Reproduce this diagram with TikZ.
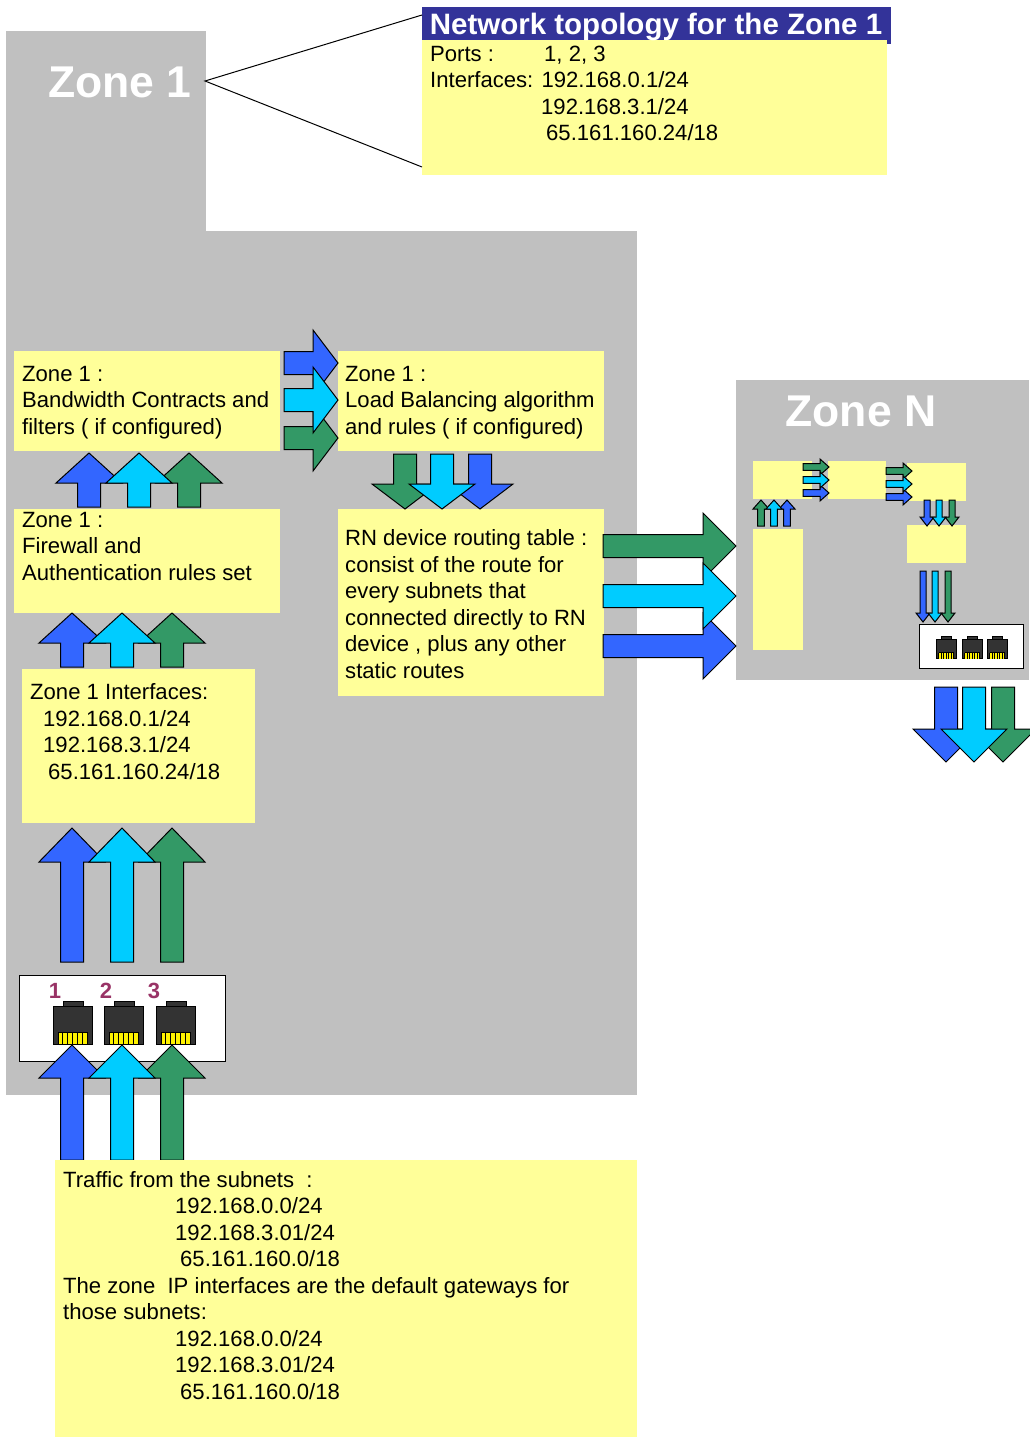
\documentclass[tikz,border=0pt]{standalone}
\usepackage{fontspec}
\setmainfont{Liberation Sans}
\definecolor{zonegray}{RGB}{192,192,192}
\definecolor{noteyel}{RGB}{255,255,153}
\definecolor{headnavy}{RGB}{51,51,153}
\definecolor{arblue}{RGB}{51,102,255}
\definecolor{arcyan}{RGB}{0,204,255}
\definecolor{argreen}{RGB}{51,153,102}
\definecolor{portnum}{RGB}{153,51,102}
\definecolor{portdark}{RGB}{51,51,51}
\tikzset{
  notetxt/.style={anchor=north west,inner sep=0pt,align=left,
    font=\fontsize{22.1}{26.5}\selectfont},
  zonetxt/.style={text=white,font=\fontsize{44.5}{50}\selectfont\bfseries},
  numtxt/.style={text=portnum,font=\fontsize{22}{24}\selectfont\bfseries}
}
% colour, tail x, tail y, angle, length, head length, head half, shaft half
\newcommand{\fatarrow}[8]{
  \draw[line width=1pt,line join=miter,fill=#1,shift={(#2,#3)},rotate=#4]
    (0,-#8) -- ({#5-#6},-#8) -- ({#5-#6},-#7) -- (#5,0)
    -- ({#5-#6},#7) -- ({#5-#6},#8) -- (0,#8) -- cycle;
}
% left x, top y, scale
\newcommand{\rjport}[3]{
  \begin{scope}[shift={(#1,#2)},scale=#3]
    \draw[line width=0.8pt,fill=portdark] (10,-5) rectangle (30,0);
    \draw[line width=0.8pt,fill=portdark] (0,0) rectangle (39,38);
    \fill[yellow] (5,26) rectangle (34,38);
    \foreach \s in {5,9.8,14.7,19.5,24.3,29.2,34}{
      \draw[line width=0.9pt,black] (\s,26) -- (\s,38);
    }
    \draw[line width=0.9pt] (5,26) -- (34,26);
  \end{scope}
}
\begin{document}
\begin{tikzpicture}[x=1pt,y=-1pt]
  \useasboundingbox (0,0) rectangle (1029,1437);
  % zone backgrounds
  \fill[zonegray] (6,31) rectangle (206,232);
  \fill[zonegray] (6,231) rectangle (637,1095);
  \fill[zonegray] (736,380) rectangle (1029,680);
  \node[zonetxt] (zoneone) at (120,82) {Zone 1};
  \node[zonetxt] (zonen) at (861,411) {Zone N};

  % topology note
  \fill[headnavy] (422,7) rectangle (891,44);
  \fill[noteyel] (422,40) rectangle (887,175);
  \node[text=white,inner sep=0pt,font=\fontsize{29.5}{32}\selectfont\bfseries]
    (topohead) at (656,27) {Network topology for the Zone 1};
  \node[notetxt] (topotxt) at (430,45.6) {\makebox[114pt][l]{Ports :}1, 2, 3\\
    Interfaces: 192.168.0.1/24\\
    \hspace*{111pt}192.168.3.1/24\\
    \hspace*{116pt}65.161.160.24/18};
  \coordinate (zonetip) at (205,81);
  \coordinate (topoup) at (422,15);
  \coordinate (topodown) at (422,167);
  \draw[line width=1pt] (topoup) -- (zonetip) -- (topodown);

  % notes of zone 1
  \fill[noteyel] (14,351) rectangle (280,451);
  \node[notetxt] (bandtxt) at (22,366) {Zone 1 :\\
    Bandwidth Contracts and\\
    filters ( if configured)};
  \fill[noteyel] (14,509) rectangle (280,613);
  \node[notetxt] (firetxt) at (22,512) {Zone 1 :\\
    Firewall and\\
    Authentication rules set};
  \fill[noteyel] (22,669) rectangle (255,823);
  \node[notetxt] (ifacetxt) at (30,683.6) {Zone 1 Interfaces:\\
    \hspace*{13pt}192.168.0.1/24\\
    \hspace*{13pt}192.168.3.1/24\\
    \hspace*{18pt}65.161.160.24/18};
  \fill[noteyel] (338,351) rectangle (604,451);
  \node[notetxt] (loadtxt) at (345,366) {Zone 1 :\\
    Load Balancing algorithm\\
    and rules ( if configured)};
  \fill[noteyel] (338,509) rectangle (604,696);
  \node[notetxt] (routetxt) at (345,529.4) {RN device routing table :\\
    consist of the route for\\
    every subnets that\\
    connected directly to RN\\
    device , plus any other\\
    static routes};

  % ports of zone 1
  \draw[line width=1pt,fill=white] (19,975) rectangle (225,1061);
  \foreach \px in {53,104,156}{
    \rjport{\px}{1006}{1}
  }
  \node[numtxt] (numone) at (55,991) {1};
  \node[numtxt] (numtwo) at (106,991) {2};
  \node[numtxt] (numthree) at (154,991) {3};

  % arrows of zone 1
  \foreach \ax/\ac in {72/arblue,172/argreen,122/arcyan}{
    \fatarrow{\ac}{\ax}{1160}{90}{115}{33}{33}{11.5}
    \fatarrow{\ac}{\ax}{962}{90}{134}{34}{33}{11.5}
    \fatarrow{\ac}{\ax}{667}{90}{54}{30}{33}{11.5}
  }
  \foreach \ax/\ac in {89/arblue,189/argreen,139/arcyan}{
    \fatarrow{\ac}{\ax}{507}{90}{54}{30}{33}{11.5}
  }
  \foreach \ay/\ac in {363/arblue,438/argreen,400/arcyan}{
    \fatarrow{\ac}{284}{\ay}{0}{54}{25}{33}{11.5}
  }
  \foreach \ax/\ac in {480/arblue,405/argreen,442/arcyan}{
    \fatarrow{\ac}{\ax}{454}{-90}{55}{25}{33}{11.5}
  }
  \foreach \ay/\ac in {646/arblue,546/argreen,596/arcyan}{
    \fatarrow{\ac}{603}{\ay}{0}{133}{33}{33}{11.5}
  }

  % traffic note
  \fill[noteyel] (55,1160) rectangle (637,1437);
  \node[notetxt] (traffictxt) at (63,1171.2) {Traffic from the subnets\ \ :\\
    \hspace*{112pt}192.168.0.0/24\\
    \hspace*{112pt}192.168.3.01/24\\
    \hspace*{117pt}65.161.160.0/18\\
    The zone\ \ IP interfaces are the default gateways for\\
    those subnets:\\
    \hspace*{112pt}192.168.0.0/24\\
    \hspace*{112pt}192.168.3.01/24\\
    \hspace*{117pt}65.161.160.0/18};

  % zone N
  \fill[noteyel] (753,461) rectangle (812,499);
  \fill[noteyel] (828,461) rectangle (886,499);
  \fill[noteyel] (907,463) rectangle (966,501);
  \fill[noteyel] (907,525) rectangle (966,563);
  \fill[noteyel] (753,529) rectangle (803,650);
  \draw[line width=1pt,fill=white] (919,624) rectangle (1023,668);
  \foreach \px in {936,962,987}{
    \rjport{\px}{639}{0.52}
  }
  \foreach \ax/\ac in {761/argreen,787/arblue,774/arcyan}{
    \fatarrow{\ac}{\ax}{526}{90}{26}{9}{8}{3.3}
  }
  \foreach \ay/\ac in {467/argreen,493/arblue,480/arcyan}{
    \fatarrow{\ac}{803}{\ay}{0}{26}{9}{8}{3.3}
  }
  \foreach \ay/\ac in {471/argreen,497/arblue,484/arcyan}{
    \fatarrow{\ac}{886}{\ay}{0}{26}{9}{8}{3.3}
  }
  \foreach \ax/\ac in {927/arblue,952/argreen,939/arcyan}{
    \fatarrow{\ac}{\ax}{500}{-90}{26}{9}{7}{3}
  }
  \foreach \ax/\ac in {923/arblue,948/argreen,935/arcyan}{
    \fatarrow{\ac}{\ax}{571}{-90}{51}{9}{7}{3}
  }
  \foreach \ax/\ac in {946/arblue,1003/argreen,974/arcyan}{
    \fatarrow{\ac}{\ax}{687}{-90}{75}{33}{33}{11.5}
  }
\end{tikzpicture}
\end{document}
